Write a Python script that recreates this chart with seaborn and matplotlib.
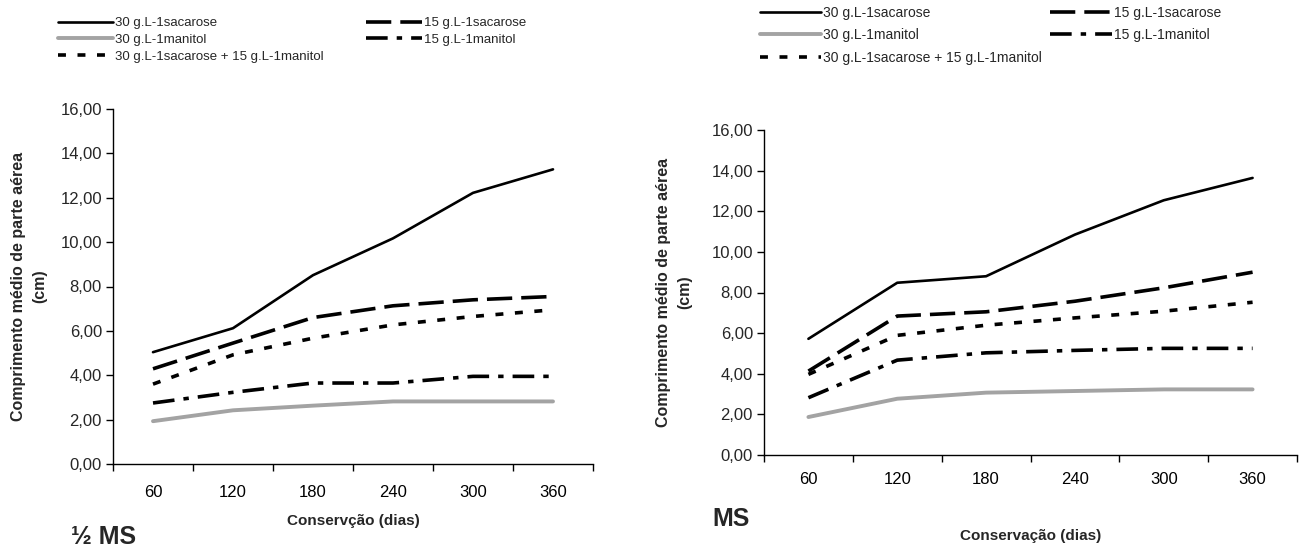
import numpy as np
import pandas as pd
import matplotlib
matplotlib.use("Agg")
import matplotlib.pyplot as plt
from matplotlib.ticker import FuncFormatter
import seaborn as sns

# dias de conservacao (categorias do eixo x)
dias = ["60", "120", "180", "240", "300", "360"]

series = ["30 g.L-1sacarose", "15 g.L-1sacarose", "30 g.L-1manitol",
          "15 g.L-1manitol", "30 g.L-1sacarose + 15 g.L-1manitol"]

# 1/2 MS
meio_sac30 = [5.04, 6.12, 8.51, 10.17, 12.22, 13.28]
meio_sac15 = [4.29, 5.45, 6.60, 7.13, 7.40, 7.55]
meio_man30 = [1.93, 2.42, 2.63, 2.82, 2.82, 2.82]
meio_man15 = [2.75, 3.23, 3.65, 3.65, 3.95, 3.95]
meio_mix = [3.60, 4.92, 5.67, 6.27, 6.65, 6.95]

# MS
ms_sac30 = [5.72, 8.48, 8.80, 10.85, 12.54, 13.64]
ms_sac15 = [4.13, 6.84, 7.05, 7.57, 8.23, 9.00]
ms_man30 = [1.87, 2.77, 3.07, 3.15, 3.23, 3.23]
ms_man15 = [2.82, 4.67, 5.03, 5.15, 5.25, 5.25]
ms_mix = [3.97, 5.89, 6.39, 6.75, 7.08, 7.52]

estilos = {
    "30 g.L-1sacarose": dict(color="black", lw=1.9, linestyle="-"),
    "15 g.L-1sacarose": dict(color="black", lw=2.6, linestyle=(0, (7, 2.5))),
    "30 g.L-1manitol": dict(color="#a3a3a3", lw=2.8, linestyle="-"),
    "15 g.L-1manitol": dict(color="black", lw=2.6, linestyle=(0, (6, 2.5, 1.5, 2.5))),
    "30 g.L-1sacarose + 15 g.L-1manitol": dict(color="black", lw=2.6, linestyle=(0, (2.2, 3.2))),
}

sns.set_theme(style="ticks")
plt.rcParams["font.family"] = ["Liberation Sans", "DejaVu Sans"]

fig = plt.figure(figsize=(13.04, 5.48), dpi=100)
W, H = 1304.0, 548.0
ax1 = fig.add_axes([113 / W, 1 - 464 / H, 480 / W, 355 / H])
ax2 = fig.add_axes([764 / W, 1 - 455 / H, 533 / W, 325 / H])


def desenha(ax, valores, xlabel, xpad):
    for nome, vals in zip(series, valores):
        df = pd.DataFrame({"dias": dias, "comprimento": vals})
        sns.lineplot(data=df, x="dias", y="comprimento", ax=ax, sort=False,
                     legend=False, label=nome, **estilos[nome])
    ax.set_xlim(-0.5, 5.5)
    ax.set_ylim(0, 16)
    ax.set_yticks(np.arange(0, 17, 2))
    ax.yaxis.set_major_formatter(FuncFormatter(lambda v, p: f"{v:.2f}".replace(".", ",")))
    ax.set_xticks(np.arange(-0.5, 6, 1), minor=True)
    ax.tick_params(axis="x", which="major", length=0, pad=xpad, labelsize=12, colors="black")
    ax.tick_params(axis="x", which="minor", length=5, width=1, color="black", direction="out")
    ax.tick_params(axis="y", length=5, width=1, color="black", labelsize=12, pad=3)
    for s in ["top", "right"]:
        ax.spines[s].set_visible(False)
    for s in ["left", "bottom"]:
        ax.spines[s].set_color("black")
        ax.spines[s].set_linewidth(1)
    ax.set_ylabel("Comprimento médio de parte aérea\n(cm)", fontsize=11.5,
                  fontweight="bold", linespacing=1.5, va="center")
    ax.set_xlabel(xlabel, fontsize=11, fontweight="bold", va="center")


desenha(ax1, [meio_sac30, meio_sac15, meio_man30, meio_man15, meio_mix],
        "Conservção (dias)", 15)
desenha(ax2, [ms_sac30, ms_sac15, ms_man30, ms_man15, ms_mix],
        "Conservação (dias)", 12)

ax1.yaxis.set_label_coords((29 - 113) / 480, 0.5)
ax1.xaxis.set_label_coords(0.5, (464 - 521) / 355)
ax2.yaxis.set_label_coords((674 - 764) / 533, 0.5)
ax2.xaxis.set_label_coords(0.5, (455 - 536) / 325)

ordem = [0, 2, 4, 1, 3]
for ax, anchor, fs, lsp, hl, cs in [(ax1, (58 / W, 1 - 17 / H), 9.5, 0.35, 4.2, 3.2),
                                    (ax2, (760 / W, 1 - 6 / H), 10, 0.6, 4.4, 0.6)]:
    h, l = ax.get_legend_handles_labels()
    fig.legend([h[i] for i in ordem], [l[i] for i in ordem], loc="upper left",
               bbox_to_anchor=anchor, bbox_transform=fig.transFigure, ncol=2,
               frameon=False, fontsize=fs, borderpad=0, borderaxespad=0,
               handlelength=hl, handletextpad=0.15, labelspacing=lsp,
               columnspacing=cs)

fig.text(71 / W, 1 - 537 / H, "½ MS", fontsize=18, fontweight="bold", va="center", ha="left")
fig.text(712 / W, 1 - 519 / H, "MS", fontsize=18, fontweight="bold", va="center", ha="left")

fig.savefig("out.png", dpi=100, facecolor="white")
